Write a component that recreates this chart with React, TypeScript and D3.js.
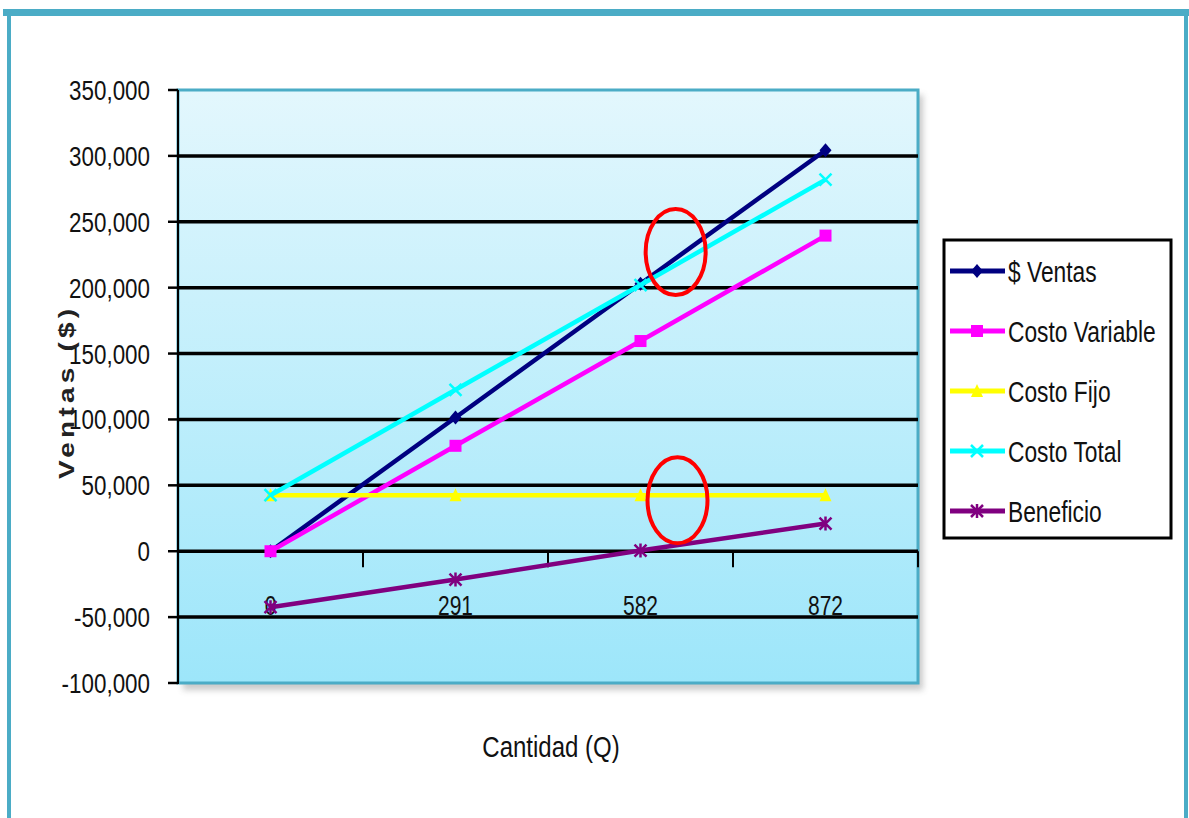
import React from "react";
import * as d3 from "d3";

const categories = ["0", "291", "582", "872"];
const ventas = [0, 101500, 203000, 304300];
const costoVariable = [0, 80000, 159500, 239500];
const costoFijo = [42500, 42500, 42500, 42500];
const costoTotal = [42500, 122500, 202000, 282000];
const beneficio = [-42500, -21500, 500, 21000];
const yTicks = [-100000, -50000, 0, 50000, 100000, 150000, 200000, 250000, 300000, 350000];
const seriesNames = ["$ Ventas", "Costo Variable", "Costo Fijo", "Costo Total", "Beneficio"];
const seriesColors = ["#000080", "#FF00FF", "#FFFF00", "#00FFFF", "#800080"];
const seriesMarkers = ["diamond", "square", "triangle", "x", "star"];
// break-even annotations: [category position (index units), value]
const annotations: [number, number][] = [[2.19, 227000], [2.2, 38700]];

const W = 1189;
const H = 818;
const plot = { left: 178, right: 918, top: 90, bottom: 683 };
const FONT = "'Liberation Sans', Arial, sans-serif";

function Txt(props: {
  x: number; y: number; size: number; anchor?: string; sx?: number; bold?: boolean; fill?: string; children: any;
}) {
  const { x, y, size, anchor = "start", sx = 0.8, bold, fill = "#000", children } = props;
  return (
    <text
      transform={`translate(${x},${y}) scale(${sx},1)`}
      fontSize={size}
      fontFamily={FONT}
      fontWeight={bold ? "bold" : "normal"}
      textAnchor={anchor}
      fill={fill}
    >
      {children}
    </text>
  );
}

function Marker({ type, x, y, color }: { type: string; x: number; y: number; color: string }) {
  const s = 6;
  switch (type) {
    case "diamond":
      return <path d={`M${x},${y - s - 1}L${x + s},${y}L${x},${y + s + 1}L${x - s},${y}Z`} fill={color} />;
    case "square":
      return <rect x={x - s} y={y - s} width={2 * s} height={2 * s} fill={color} />;
    case "triangle":
      return <path d={`M${x},${y - s - 1}L${x + s},${y + s}L${x - s},${y + s}Z`} fill={color} />;
    case "x":
      return (
        <path d={`M${x - s},${y - s}L${x + s},${y + s}M${x + s},${y - s}L${x - s},${y + s}`} stroke={color} strokeWidth={2.5} fill="none" />
      );
    default:
      return (
        <path
          d={`M${x - s},${y - s}L${x + s},${y + s}M${x + s},${y - s}L${x - s},${y + s}M${x},${y - s - 1}L${x},${y + s + 1}`}
          stroke={color}
          strokeWidth={2.5}
          fill="none"
        />
      );
  }
}

export default function App() {
  const series = [ventas, costoVariable, costoFijo, costoTotal, beneficio];
  const xBand = d3.scaleBand().domain(categories).range([plot.left, plot.right]).padding(0);
  const xc = (i: number) => (xBand(categories[i]) as number) + xBand.bandwidth() / 2;
  const xIdx = d3.scaleLinear().domain([-0.5, categories.length - 0.5]).range([plot.left, plot.right]);
  const y = d3.scaleLinear().domain([-100000, 350000]).range([plot.bottom, plot.top]);
  const fmt = (v: number) => d3.format(",")(v).replace("\u2212", "-");
  const line = d3
    .line<number>()
    .x((_, i) => xc(i))
    .y((d) => y(d));

  const legend = { x: 944, y: 240, w: 227, h: 298 };
  const rowY = (i: number) => 271 + i * 60;

  return (
    <svg width={W} height={H} style={{ position: "absolute", left: 0, top: 0, background: "#fff" }}>
      <defs>
        <linearGradient id="bg" x1="0" y1="0" x2="0" y2="1">
          <stop offset="0" stopColor="#E3F7FD" />
          <stop offset="1" stopColor="#9DE6FA" />
        </linearGradient>
        <filter id="shadow" x="-5%" y="-5%" width="115%" height="115%">
          <feGaussianBlur stdDeviation="3" />
        </filter>
      </defs>

      {/* outer frame */}
      <rect x={3} y={9} width={1186} height={7} fill="#4BACC6" />
      <rect x={7} y={9} width={4} height={H} fill="#4BACC6" />
      <rect x={1184} y={9} width={4} height={H} fill="#4BACC6" />

      {/* plot shadow */}
      <rect
        x={plot.left + 5}
        y={plot.top + 5}
        width={plot.right - plot.left}
        height={plot.bottom - plot.top + 2}
        fill="#888"
        opacity={0.45}
        filter="url(#shadow)"
      />
      {/* plot area */}
      <rect x={plot.left} y={plot.top} width={plot.right - plot.left} height={plot.bottom - plot.top} fill="url(#bg)" />
      <rect
        x={plot.left}
        y={plot.top}
        width={plot.right - plot.left}
        height={plot.bottom - plot.top}
        fill="none"
        stroke="#4BACC6"
        strokeWidth={3}
      />

      {/* gridlines */}
      {yTicks
        .filter((t) => t > -100000 && t < 350000)
        .map((t) => (
          <line key={t} x1={plot.left} x2={plot.right} y1={y(t)} y2={y(t)} stroke="#000" strokeWidth={3.5} />
        ))}

      {/* x-axis ticks at category boundaries */}
      {categories.map((c) => {
        const bx = (xBand(c) as number) + xBand.bandwidth();
        return <line key={c} x1={bx} x2={bx} y1={y(0)} y2={y(0) + 16} stroke="#000" strokeWidth={2} />;
      })}

      {/* y axis */}
      <line x1={plot.left} x2={plot.left} y1={plot.top} y2={plot.bottom + 1} stroke="#000" strokeWidth={2} />
      {yTicks.map((t) => (
        <g key={t}>
          <line x1={plot.left - 10} x2={plot.left} y1={y(t)} y2={y(t)} stroke="#000" strokeWidth={2.5} />
          <Txt x={plot.left - 28} y={y(t) + 10} size={28} anchor="end" sx={0.8} fill="#111">
            {fmt(t)}
          </Txt>
        </g>
      ))}

      {/* x tick labels */}
      {categories.map((c, i) => (
        <Txt key={c} x={xc(i)} y={615} size={28} anchor="middle" sx={0.75} fill="#111">
          {c}
        </Txt>
      ))}

      {/* series */}
      {series.map((s, k) => (
        <g key={k}>
          <path d={line(s) as string} fill="none" stroke={seriesColors[k]} strokeWidth={4.5} />
          {s.map((v, i) => (
            <Marker key={i} type={seriesMarkers[k]} x={xc(i)} y={y(v)} color={seriesColors[k]} />
          ))}
        </g>
      ))}

      {/* annotations */}
      {annotations.map(([ci, v], i) => (
        <ellipse key={i} cx={xIdx(ci)} cy={y(v)} rx={30} ry={43} fill="none" stroke="#FF0000" strokeWidth={4} />
      ))}

      {/* axis titles */}
      <Txt x={551} y={757} size={30} anchor="middle" sx={0.8} fill="#111">
        Cantidad (Q)
      </Txt>
      <text
        transform="translate(74,394) rotate(-90) scale(1,0.8)"
        fontSize={28}
        fontFamily={FONT}
        fontWeight="bold"
        textAnchor="middle"
        textLength={170}
        lengthAdjust="spacing"
        fill="#222"
      >
        Ventas ($)
      </text>

      {/* legend */}
      <rect x={legend.x} y={legend.y} width={legend.w} height={legend.h} fill="#fff" stroke="#000" strokeWidth={3} />
      {seriesNames.map((n, i) => (
        <g key={n}>
          <line x1={950} x2={1005} y1={rowY(i)} y2={rowY(i)} stroke={seriesColors[i]} strokeWidth={5} />
          <Marker type={seriesMarkers[i]} x={977} y={rowY(i)} color={seriesColors[i]} />
          <Txt x={1008} y={rowY(i) + 11} size={30} sx={0.76} fill="#111">
            {n}
          </Txt>
        </g>
      ))}
    </svg>
  );
}
